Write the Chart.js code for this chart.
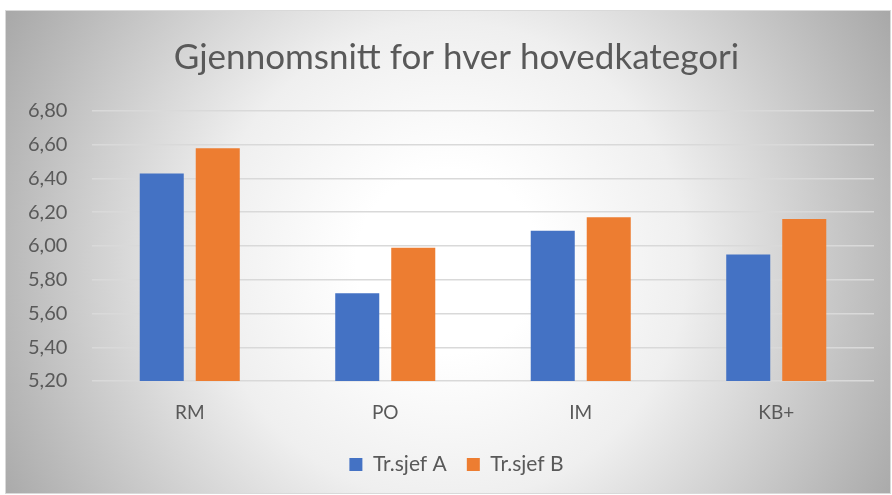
<!DOCTYPE html>
<html>
<head>
<meta charset="utf-8">
<script src="https://cdn.jsdelivr.net/npm/chart.js@4/dist/chart.umd.min.js"></script>
<style>
	html, body { margin: 0; padding: 0; background: #fff; }
	#wrap {
		position: absolute; left: 5px; top: 10px; width: 884px; height: 482px;
		border: 1px solid #d9d9d9;
		background: radial-gradient(circle farthest-corner at 50% 52%, #ffffff 0%, #ffffff 18%, #efefef 47%, #b9b9b9 87%, #a8a8a8 100%);
	}
</style>
</head>
<body>
<div id="wrap"><canvas id="myChart"></canvas></div>
<script>
	'use strict';

	const categories = ['RM', 'PO', 'IM', 'KB+'];
	const seriesA = [6.43, 5.72, 6.09, 5.95];
	const seriesB = [6.58, 5.99, 6.17, 6.16];
	const seriesNames = ['Tr.sjef A', 'Tr.sjef B'];
	const yMin = 5.2, yMax = 6.8, yStep = 0.2;

	const textColor = '#595959';
	const fontFamily = 'Lato, "Open Sans", sans-serif';

	let ctx = document.getElementById('myChart').getContext('2d');
	let myChart = new Chart(ctx, {
		type: 'bar',
		data: {
			labels  : categories,
			datasets: [
				{ label: seriesNames[0], data: seriesA, backgroundColor: '#4472C4' },
				{ label: seriesNames[1], data: seriesB, backgroundColor: '#ED7D31' }
			]
		},
		options: {
			responsive         : true,
			maintainAspectRatio: false,
			animation          : false,
			categoryPercentage : 0.573,
			barPercentage      : 0.786,
			layout             : { padding: { left: 33, right: 16, top: 0, bottom: 8 } },
			plugins: {
				title: {
					display : true,
					text    : 'Gjennomsnitt for hver hovedkategori',
					color   : textColor,
					font    : { family: fontFamily, size: 35, weight: 'normal' },
					padding : { top: 26, bottom: 32 }
				},
				legend: {
					position: 'bottom',
					labels  : {
						color    : textColor,
						font     : { family: fontFamily, size: 21 },
						boxWidth : 13,
						boxHeight: 13,
						padding  : 20
					}
				},
				tooltip: { enabled: false }
			},
			scales: {
				x: {
					grid  : { display: false },
					border: { display: false },
					ticks : { color: textColor, font: { family: fontFamily, size: 19 }, padding: 12 },
					afterFit: function (scale) { scale.height = 53; }
				},
				y: {
					min   : yMin,
					max   : yMax,
					grid  : { color: '#d9d9d9', lineWidth: 1.5, drawTicks: false },
					border: { display: false },
					ticks : {
						stepSize: yStep,
						color   : textColor,
						font    : { family: fontFamily, size: 20 },
						mirror  : true,
						padding : -64,
						callback: function (v) { return v.toFixed(2).replace('.', ','); }
					},
					afterFit: function (scale) { scale.width = 53; }
				}
			}
		}
	});
</script>
</body>
</html>
